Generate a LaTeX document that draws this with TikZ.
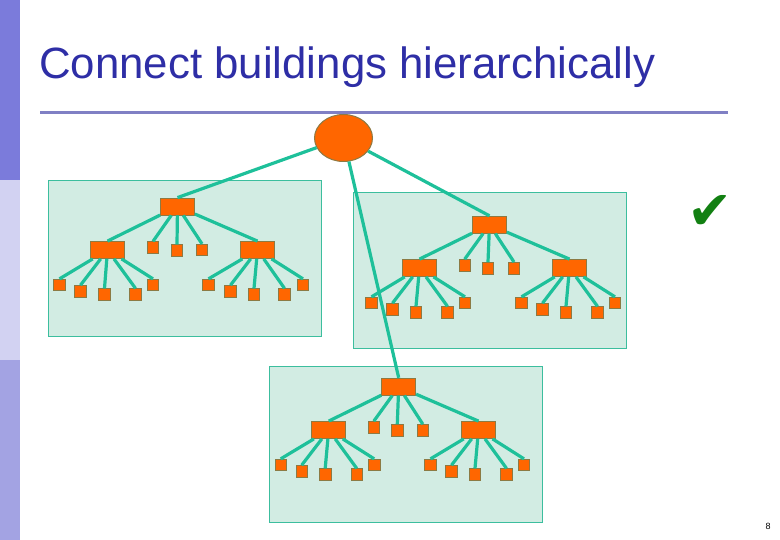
\documentclass[tikz,border=0pt]{standalone}
\usepackage{fontspec}
\setmainfont{Liberation Sans}
\newfontfamily\symbolfont{DejaVu Sans}
\usetikzlibrary{shapes.geometric}
\definecolor{titleblue}{HTML}{2E2EA6}
\definecolor{barA}{HTML}{7B7BDB}
\definecolor{barB}{HTML}{D2D2F2}
\definecolor{barC}{HTML}{A3A3E3}
\definecolor{rulecol}{HTML}{8080C4}
\definecolor{netorange}{HTML}{FF6600}
\definecolor{netborder}{HTML}{8C7A44}
\definecolor{linkteal}{HTML}{1EC09A}
\definecolor{housefill}{HTML}{D2ECE3}
\definecolor{houseline}{HTML}{3CBE9E}
\definecolor{checkgreen}{HTML}{128012}
\begin{document}
\begin{tikzpicture}[
    x=1pt, y=-1pt,
    house/.style={rectangle, draw=houseline, fill=housefill, line width=0.8pt, minimum width=273pt, minimum height=156pt, inner sep=0pt},
    hub/.style={rectangle, draw=netborder, fill=netorange, line width=0.8pt, minimum width=34pt, minimum height=17pt, inner sep=0pt},
    pc/.style={rectangle, draw=netborder, fill=netorange, line width=0.8pt, minimum size=11.5pt, inner sep=0pt},
    core/.style={ellipse, draw=netborder, fill=netorange, line width=1pt, minimum width=58pt, minimum height=47pt, inner sep=0pt},
    link/.style={draw=linkteal, line width=3.2pt}
]
\useasboundingbox (0,0) rectangle (780,540);
% Seitenleiste
\fill[barA] (0,0) rectangle (20,180);
\fill[barB] (0,180) rectangle (20,360);
\fill[barC] (0,360) rectangle (20,540);
% Titel und Linie
\node[anchor=base west, text=titleblue, font=\fontsize{43.8}{50}\selectfont, inner sep=0pt] (title) at (39,79) {Connect buildings hierarchically};
\coordinate (ruleL) at (40,113);
\coordinate (ruleR) at (728,113);
\draw[rulecol, line width=3pt] (ruleL) -- (ruleR);

% Gebaeude
\node[house] (house1) at (184.5,258) {};
\node[house] (house2) at (489.5,270) {};
\node[house] (house3) at (405.5,444) {};

% Zentraler Knoten
\node[core] (root) at (343.5,138) {};

% Gebaeude 1
\node[hub] (top1) at (177.5,206.5) {};
\node[hub] (midL1) at (107.5,250) {};
\node[hub] (midR1) at (257.5,250) {};
\node[pc] (pcA1) at (153,247.5) {};
\node[pc] (pcB1) at (177,250.5) {};
\node[pc] (pcC1) at (202,250) {};
\node[pc] (leafL1a) at (59.5,285) {};
\node[pc] (leafL1b) at (80.5,291.3) {};
\node[pc] (leafL1c) at (104.5,294.5) {};
\node[pc] (leafL1d) at (135.5,294.5) {};
\node[pc] (leafL1e) at (153,285) {};
\node[pc] (leafR1a) at (208.5,285) {};
\node[pc] (leafR1b) at (230.5,291.3) {};
\node[pc] (leafR1c) at (254,294.5) {};
\node[pc] (leafR1d) at (284.5,294.5) {};
\node[pc] (leafR1e) at (303,285) {};

% Gebaeude 2
\node[hub] (top2) at (489.5,224.7) {};
\node[hub] (midL2) at (419.5,268) {};
\node[hub] (midR2) at (569.5,268) {};
\node[pc] (pcA2) at (464.7,265.3) {};
\node[pc] (pcB2) at (488,268.2) {};
\node[pc] (pcC2) at (514,268.2) {};
\node[pc] (leafL2a) at (371.5,303) {};
\node[pc] (leafL2b) at (392.5,309.3) {};
\node[pc] (leafL2c) at (416,312.5) {};
\node[pc] (leafL2d) at (447.5,312.5) {};
\node[pc] (leafL2e) at (465,303) {};
\node[pc] (leafR2a) at (521.5,303) {};
\node[pc] (leafR2b) at (542.5,309.3) {};
\node[pc] (leafR2c) at (566,312.5) {};
\node[pc] (leafR2d) at (597.5,312.5) {};
\node[pc] (leafR2e) at (615,303) {};

% Gebaeude 3
\node[hub] (top3) at (398.7,386.7) {};
\node[hub] (midL3) at (328.7,430) {};
\node[hub] (midR3) at (478.5,430) {};
\node[pc] (pcA3) at (373.8,427.3) {};
\node[pc] (pcB3) at (397.3,430.3) {};
\node[pc] (pcC3) at (422.8,430.3) {};
\node[pc] (leafL3a) at (280.7,465) {};
\node[pc] (leafL3b) at (301.7,471.3) {};
\node[pc] (leafL3c) at (325.2,474.5) {};
\node[pc] (leafL3d) at (356.7,474.5) {};
\node[pc] (leafL3e) at (374.2,465) {};
\node[pc] (leafR3a) at (430.5,465) {};
\node[pc] (leafR3b) at (451.5,471.3) {};
\node[pc] (leafR3c) at (475,474.5) {};
\node[pc] (leafR3d) at (506.5,474.5) {};
\node[pc] (leafR3e) at (524,465) {};

% Haken und Seitenzahl
\node[text=checkgreen, font=\symbolfont\fontsize{54}{54}\selectfont, inner sep=0pt] (check) at (710,212) {✔};
\node[font=\fontsize{9}{9}\selectfont, inner sep=0pt] (pagenum) at (768,526) {8};

% Verbindungen zum zentralen Knoten
\draw[link] (root) -- (top1.north);
\draw[link] (root) -- (top2.north);
\draw[link] (root) -- (top3.north);

% Verbindungen Gebaeude 1
\draw[link] (top1) -- (midL1.north);
\draw[link] (top1) -- (midR1.north);
\draw[link] (top1) -- (pcA1.north);
\draw[link] (top1) -- (pcB1.north);
\draw[link] (top1) -- (pcC1.north);
\draw[link] (midL1) -- (leafL1a.north);
\draw[link] (midL1) -- (leafL1b.north);
\draw[link] (midL1) -- (leafL1c.north);
\draw[link] (midL1) -- (leafL1d.north);
\draw[link] (midL1) -- (leafL1e.north);
\draw[link] (midR1) -- (leafR1a.north);
\draw[link] (midR1) -- (leafR1b.north);
\draw[link] (midR1) -- (leafR1c.north);
\draw[link] (midR1) -- (leafR1d.north);
\draw[link] (midR1) -- (leafR1e.north);

% Verbindungen Gebaeude 2
\draw[link] (top2) -- (midL2.north);
\draw[link] (top2) -- (midR2.north);
\draw[link] (top2) -- (pcA2.north);
\draw[link] (top2) -- (pcB2.north);
\draw[link] (top2) -- (pcC2.north);
\draw[link] (midL2) -- (leafL2a.north);
\draw[link] (midL2) -- (leafL2b.north);
\draw[link] (midL2) -- (leafL2c.north);
\draw[link] (midL2) -- (leafL2d.north);
\draw[link] (midL2) -- (leafL2e.north);
\draw[link] (midR2) -- (leafR2a.north);
\draw[link] (midR2) -- (leafR2b.north);
\draw[link] (midR2) -- (leafR2c.north);
\draw[link] (midR2) -- (leafR2d.north);
\draw[link] (midR2) -- (leafR2e.north);

% Verbindungen Gebaeude 3
\draw[link] (top3) -- (midL3.north);
\draw[link] (top3) -- (midR3.north);
\draw[link] (top3) -- (pcA3.north);
\draw[link] (top3) -- (pcB3.north);
\draw[link] (top3) -- (pcC3.north);
\draw[link] (midL3) -- (leafL3a.north);
\draw[link] (midL3) -- (leafL3b.north);
\draw[link] (midL3) -- (leafL3c.north);
\draw[link] (midL3) -- (leafL3d.north);
\draw[link] (midL3) -- (leafL3e.north);
\draw[link] (midR3) -- (leafR3a.north);
\draw[link] (midR3) -- (leafR3b.north);
\draw[link] (midR3) -- (leafR3c.north);
\draw[link] (midR3) -- (leafR3d.north);
\draw[link] (midR3) -- (leafR3e.north);
\end{tikzpicture}
\end{document}
